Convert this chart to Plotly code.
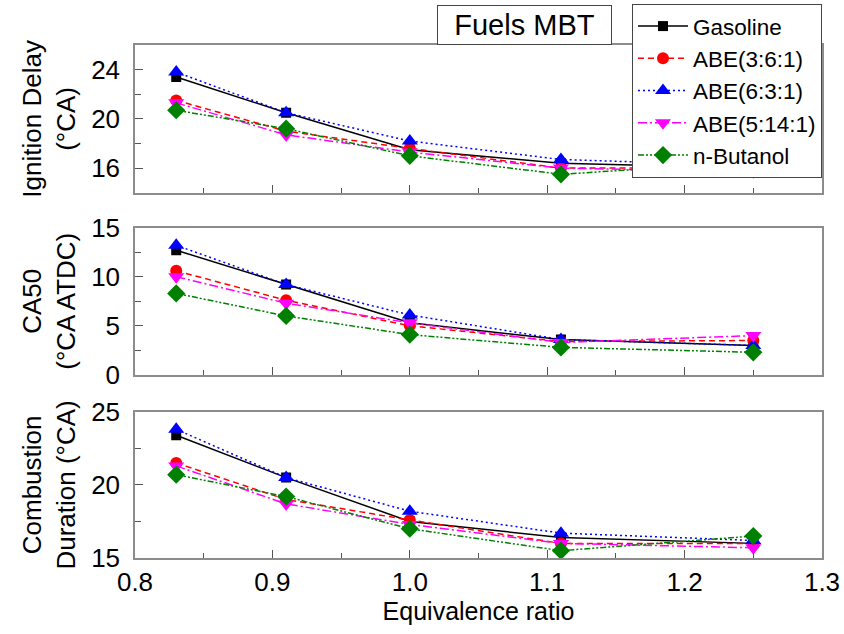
import plotly.graph_objects as go
from plotly.subplots import make_subplots

phi = [0.83, 0.91, 1.0, 1.11, 1.25]
fuels = ["Gasoline", "ABE(3:6:1)", "ABE(6:3:1)", "ABE(5:14:1)", "n-Butanol"]

ign_gasoline = [23.4, 20.5, 17.5, 16.4, 16.0]
ign_abe361 = [21.5, 19.0, 17.6, 16.0, 16.0]
ign_abe631 = [23.8, 20.5, 18.2, 16.7, 16.2]
ign_abe5141 = [21.3, 18.7, 17.3, 16.0, 15.7]
ign_butanol = [20.7, 19.2, 17.0, 15.5, 16.5]

ca50_gasoline = [12.7, 9.2, 5.3, 3.6, 3.0]
ca50_abe361 = [10.6, 7.6, 5.0, 3.4, 3.5]
ca50_abe631 = [13.2, 9.2, 6.1, 3.6, 3.0]
ca50_abe5141 = [10.0, 7.3, 5.3, 3.3, 4.0]
ca50_butanol = [8.3, 6.0, 4.1, 2.8, 2.3]

dur_gasoline = [23.4, 20.5, 17.5, 16.4, 16.0]
dur_abe361 = [21.5, 19.0, 17.6, 16.0, 16.0]
dur_abe631 = [23.8, 20.5, 18.2, 16.7, 16.2]
dur_abe5141 = [21.3, 18.7, 17.3, 16.0, 15.7]
dur_butanol = [20.7, 19.2, 17.0, 15.5, 16.5]

panels = [
    [ign_gasoline, ign_abe361, ign_abe631, ign_abe5141, ign_butanol],
    [ca50_gasoline, ca50_abe361, ca50_abe631, ca50_abe5141, ca50_butanol],
    [dur_gasoline, dur_abe361, dur_abe631, dur_abe5141, dur_butanol],
]

styles = [
    dict(color="#000000", dash="solid", symbol="square", size=10),
    dict(color="#FF0000", dash="6px,4px", symbol="circle", size=12),
    dict(color="#0000FF", dash="2px,3px", symbol="triangle-up", size=14),
    dict(color="#FF00FF", dash="9px,3px,2px,3px", symbol="triangle-down", size=14),
    dict(color="#008000", dash="6px,2px,2px,2px,2px,2px", symbol="diamond", size=14),
]

fig = make_subplots(rows=3, cols=1, shared_xaxes=True)

for r, data in enumerate(panels, start=1):
    for name, ys, st in zip(fuels, data, styles):
        fig.add_trace(
            go.Scatter(
                x=phi, y=ys, name=name, mode="lines+markers",
                line=dict(color=st["color"], dash=st["dash"], width=1.5),
                marker=dict(symbol=st["symbol"], size=st["size"], color=st["color"]),
                showlegend=(r == 1),
                legendgroup=name,
            ),
            row=r, col=1,
        )

font_family = "Liberation Sans, Arial, sans-serif"
axis_common = dict(
    showline=True, linecolor="#8c8c8c", linewidth=1.5, mirror=True,
    showgrid=False, zeroline=False, ticks="inside", ticklen=8, tickwidth=1,
    tickcolor="#555555", tickfont=dict(size=26, color="#000", family=font_family),
)

# plot area: x 135..822, y 45..558
domains = [(0.712, 1.0), (0.357, 0.644), (0.0, 0.285)]
yranges = [(14, 26), (0, 15), (15, 25)]
ydticks = [4, 5, 5]
ytitles = ["Ignition Delay<br>(°CA)", "CA50<br>(°CA ATDC)",
           "Combustion<br>Duration (°CA)"]
ytick0 = [16, 0, 15]

for i in range(3):
    yname = "yaxis" if i == 0 else f"yaxis{i+1}"
    xname = "xaxis" if i == 0 else f"xaxis{i+1}"
    fig.layout[yname].update(
        domain=list(domains[i]), range=list(yranges[i]), tick0=ytick0[i], dtick=ydticks[i],
        title=dict(text=ytitles[i], font=dict(size=26, family=font_family, color="#000"), standoff=8),
        minor=dict(ticks="inside", ticklen=6, tickcolor="#555555", dtick=ydticks[i] / 2, tick0=ytick0[i]),
        ticklabelstandoff=8,
        **axis_common,
    )
    fig.layout[xname].update(
        range=[0.8, 1.3], tick0=0.8, dtick=0.1, tickformat=".1f",
        minor=dict(ticks="inside", ticklen=5, tickcolor="#555555", dtick=0.05),
        showticklabels=(i == 2),
        **axis_common,
    )

fig.layout["xaxis3"].title = dict(text="Equivalence ratio", font=dict(size=25, family=font_family, color="#000"), standoff=4)

fig.add_annotation(
    text="Fuels MBT", xref="paper", yref="paper", x=0.695, y=1.078,
    xanchor="right", yanchor="top", showarrow=False,
    font=dict(size=29, family=font_family, color="#000"),
    width=171, height=36, bordercolor="#444", borderwidth=1, bgcolor="white",
)

fig.update_layout(
    width=844, height=634,
    margin=dict(l=135, r=22, t=45, b=76, autoexpand=False),
    paper_bgcolor="white", plot_bgcolor="white",
    font=dict(family=font_family, color="#000"),
    legend=dict(
        x=1.0, y=1.080, xanchor="right", yanchor="top",
        bgcolor="white", bordercolor="#444", borderwidth=1,
        font=dict(size=22.5, family=font_family, color="#000"),
        itemwidth=50, tracegroupgap=0,
    ),
)

fig.write_html("out.html")
